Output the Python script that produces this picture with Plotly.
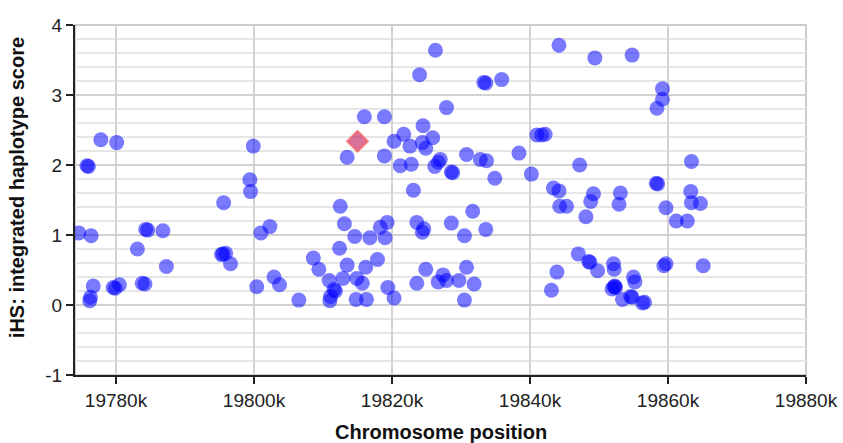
import plotly.graph_objects as go

# Chromosome position (kb) and iHS score
pos_kb = [19774.6, 19776.4, 19775.8, 19776.0, 19777.8, 19780.1, 19776.7, 19776.3, 19776.2, 19779.6,
          19779.9, 19780.5, 19784.3, 19784.6, 19786.8, 19783.1, 19787.3, 19783.8, 19784.2, 19795.6,
          19799.4, 19799.5, 19799.9, 19795.5, 19795.9, 19795.3, 19796.6, 19801.0, 19802.3, 19800.4,
          19802.9, 19803.7, 19806.5, 19808.6, 19809.4, 19812.5, 19813.1, 19812.4, 19810.9, 19811.6,
          19811.8, 19811.0, 19811.1, 19812.9, 19813.5, 19814.6, 19814.9, 19815.7, 19814.8, 19816.3,
          19816.2, 19816.8, 19817.9, 19818.3, 19819.3, 19819.0, 19819.4, 19820.3, 19823.1, 19823.6,
          19824.6, 19824.4, 19823.6, 19824.9, 19826.7, 19827.4, 19827.9, 19829.7, 19830.5, 19830.8,
          19831.9, 19828.6, 19830.5, 19831.7, 19833.6, 19834.9, 19813.5, 19816.0, 19818.9, 19818.9,
          19820.3, 19821.7, 19822.6, 19821.2, 19822.8, 19824.5, 19824.0, 19826.3, 19827.9, 19824.4,
          19824.9, 19825.9, 19826.7, 19826.2, 19827.0, 19828.6, 19828.8, 19830.8, 19832.8, 19833.7,
          19833.3, 19833.6, 19835.9, 19844.2, 19849.4, 19854.8, 19859.2, 19859.2, 19858.4, 19841.0,
          19841.7, 19842.2, 19838.4, 19847.2, 19863.4, 19840.2, 19843.4, 19844.2, 19844.3, 19845.3,
          19848.1, 19849.2, 19848.8, 19853.1, 19852.9, 19858.3, 19858.5, 19859.7, 19861.2, 19862.8,
          19863.3, 19863.4, 19864.7, 19847.0, 19848.5, 19848.7, 19849.8, 19843.9, 19843.1, 19852.1,
          19852.2, 19852.2, 19852.4, 19852.3, 19851.9, 19853.4, 19854.6, 19854.8, 19855.0, 19855.2,
          19856.3, 19856.6, 19859.7, 19859.4, 19865.1]
ihs = [1.03, 0.99, 1.99, 1.98, 2.36, 2.32, 0.27, 0.11, 0.06, 0.25,
       0.24, 0.29, 1.08, 1.07, 1.06, 0.80, 0.55, 0.31, 0.30, 1.46,
       1.79, 1.62, 2.27, 0.73, 0.74, 0.72, 0.59, 1.03, 1.12, 0.26,
       0.40, 0.29, 0.07, 0.67, 0.51, 1.41, 1.16, 0.81, 0.35, 0.22,
       0.20, 0.06, 0.12, 0.38, 0.57, 0.98, 0.38, 0.31, 0.08, 0.08,
       0.54, 0.96, 0.65, 1.11, 1.18, 0.96, 0.25, 0.10, 1.64, 1.18,
       1.09, 1.04, 0.31, 0.51, 0.33, 0.43, 0.35, 0.35, 0.07, 0.54,
       0.30, 1.17, 0.99, 1.34, 1.08, 1.81, 2.11, 2.69, 2.69, 2.13,
       2.34, 2.44, 2.27, 1.99, 2.01, 2.56, 3.29, 3.64, 2.82, 2.32,
       2.24, 2.39, 2.04, 1.98, 2.08, 1.90, 1.89, 2.15, 2.08, 2.06,
       3.18, 3.17, 3.22, 3.71, 3.53, 3.57, 3.09, 2.94, 2.81, 2.43,
       2.43, 2.44, 2.17, 2.00, 2.05, 1.87, 1.67, 1.63, 1.41, 1.41,
       1.26, 1.59, 1.48, 1.60, 1.44, 1.74, 1.73, 1.39, 1.20, 1.20,
       1.62, 1.46, 1.45, 0.73, 0.62, 0.61, 0.49, 0.47, 0.21, 0.59,
       0.51, 0.26, 0.25, 0.27, 0.23, 0.08, 0.12, 0.11, 0.40, 0.33,
       0.03, 0.04, 0.59, 0.56, 0.56]

highlight_pos_kb = [19815.0]
highlight_ihs = [2.34]

x_ticks = [19780, 19800, 19820, 19840, 19860, 19880]
x_ticktext = ["19780k", "19800k", "19820k", "19840k", "19860k", "19880k"]
y_ticks = [-1, 0, 1, 2, 3, 4]
y_ticktext = ["-1", "0", "1", "2", "3", "4"]

FONT = "Arial, Liberation Sans, sans-serif"

fig = go.Figure()
fig.add_trace(go.Scatter(
    x=pos_kb, y=ihs, mode="markers",
    marker=dict(size=15, color="rgb(0,0,255)", opacity=0.52, line=dict(width=0)),
    showlegend=False, hoverinfo="x+y"))
fig.add_trace(go.Scatter(
    x=highlight_pos_kb, y=highlight_ihs, mode="markers",
    marker=dict(symbol="diamond", size=16, color="rgba(190,20,90,0.6)",
                line=dict(width=2, color="rgba(255,90,90,0.7)")),
    showlegend=False, hoverinfo="x+y"))

fig.add_shape(type="rect", xref="paper", yref="paper", x0=0, x1=1, y0=0, y1=1,
              line=dict(color="#cccccc", width=2), layer="below")

fig.add_annotation(text="<b>Chromosome position</b>", xref="paper", yref="paper",
                   x=0.5, y=-0.163, xanchor="center", yanchor="middle", showarrow=False,
                   font=dict(size=20, family=FONT, color="#111111"))
fig.add_annotation(text="<b>iHS: integrated haplotype score</b>", xref="paper", yref="paper",
                   x=-0.0793, y=0.534, xanchor="center", yanchor="middle", showarrow=False,
                   textangle=-90, font=dict(size=20, family=FONT, color="#111111"))

fig.update_layout(
    width=843, height=443,
    margin=dict(l=75, r=37, t=25, b=68, autoexpand=False),
    paper_bgcolor="white", plot_bgcolor="white",
    font=dict(family=FONT, color="#222222", size=18),
    xaxis=dict(range=[19774.06, 19880], tickmode="array", tickvals=x_ticks, ticktext=x_ticktext,
               automargin=False,
               showgrid=True, gridcolor="#d2d2d2", gridwidth=2,
               showline=True, linecolor="#222222", linewidth=2,
               ticks="outside", ticklen=7, tickwidth=2, tickcolor="#222222",
               tickfont=dict(size=19, family=FONT, color="#222222"),
               zeroline=False),
    yaxis=dict(range=[-1, 4], tickmode="array", tickvals=y_ticks, ticktext=y_ticktext,
               automargin=False,
               showgrid=True, gridcolor="#d2d2d2", gridwidth=2,
               minor=dict(dtick=0.2, tick0=0, showgrid=True, gridcolor="#e6e6e6", gridwidth=2, ticks=""),
               showline=True, linecolor="#222222", linewidth=2,
               ticks="outside", ticklen=7, tickwidth=2, tickcolor="#222222",
               tickfont=dict(size=19, family=FONT, color="#222222"),
               zeroline=False),
)

fig.write_html("out.html", config={"displayModeBar": False},
               post_script="document.body.style.margin='0px';document.body.style.padding='0px';")
